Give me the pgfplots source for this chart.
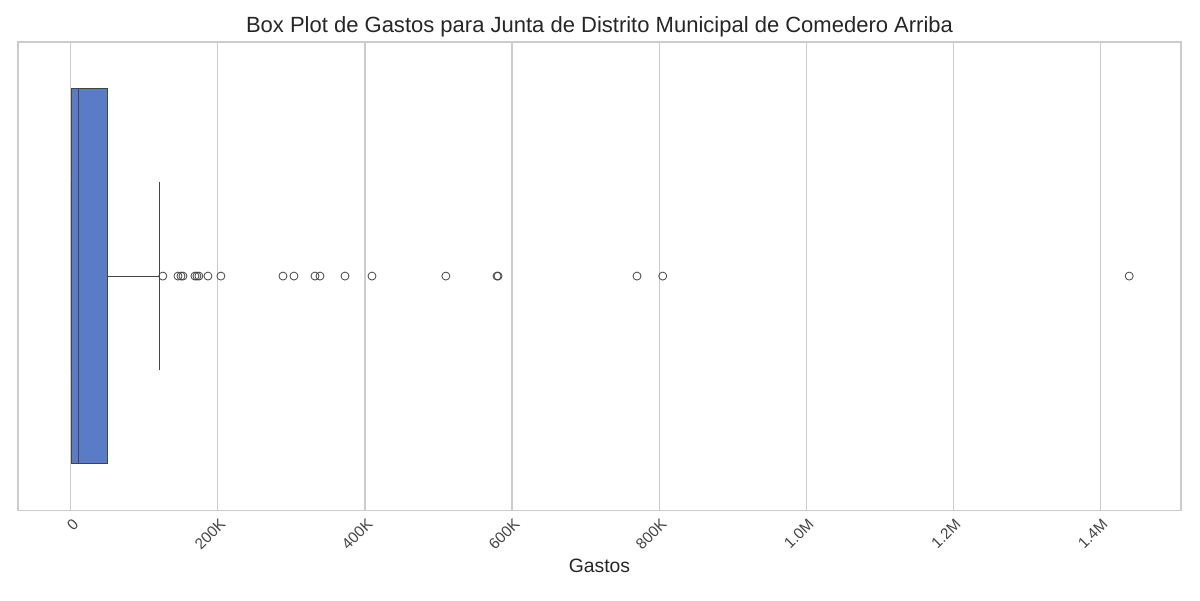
\documentclass[border=0pt]{standalone}
\usepackage{pgfplots}
\pgfplotsset{compat=1.18}
\usepgfplotslibrary{statistics}
\usepackage{fontspec}
\setmainfont{Liberation Sans}
\definecolor{boxblue}{HTML}{5A7BC6}
\definecolor{edge}{HTML}{444444}
\definecolor{gridc}{HTML}{CCCCCC}
\begin{document}
\begin{tikzpicture}
\path (-13.5pt,-67.5pt) rectangle (886.25pt,382.5pt);
\begin{axis}[
  at={(0,0)}, anchor=south west,
  scale only axis, width=872pt, height=351pt,
  xmin=-72, xmax=1510, ymin=-0.5, ymax=0.5,
  axis line style={gridc, line width=0.9pt},
  xtick={0,200,400,600,800,1000,1200,1400},
  xticklabels={0,200K,400K,600K,800K,1.0M,1.2M,1.4M},
  xticklabel style={rotate=45, anchor=north east, font=\fontsize{11.5}{13}\selectfont, text=edge, yshift=-1pt},
  ytick=\empty,
  major tick length=0pt,
  xmajorgrids, grid style={gridc, line width=0.8pt},
  xlabel={Gastos}, xlabel style={font=\fontsize{14.5}{16}\selectfont, text=black!85, yshift=2pt},
  title={Box Plot de Gastos para Junta de Distrito Municipal de Comedero Arriba},
  title style={font=\fontsize{16.5}{18}\selectfont, text=black!85, yshift=-6pt},
  boxplot/draw direction=x,
]
\addplot+[
  boxplot prepared={lower whisker=0, lower quartile=0.5, median=9.5, upper quartile=49, upper whisker=120, draw position=0, box extend=0.8, whisker extend=0.4},
  fill=boxblue, draw=edge, line width=0.6pt, solid,
  mark=o, mark size=3pt, mark options={draw=edge, fill=none, line width=0.6pt},
] table[row sep=\\, y index=0] {
125\\145.6\\149.7\\152.4\\168.7\\171.4\\174.1\\186.4\\204\\288.4\\303.4\\332\\338.8\\372.8\\409.5\\510\\579.6\\581\\770\\805\\1439.5\\
};
\end{axis}
\end{tikzpicture}
\end{document}
